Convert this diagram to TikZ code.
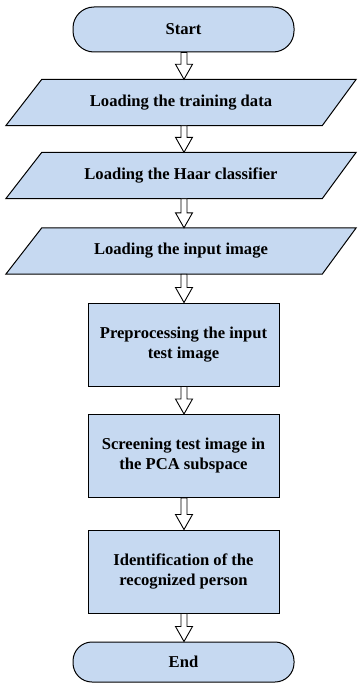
\documentclass[tikz,border=0pt]{standalone}
\usepackage{fontspec}
\setmainfont{Liberation Serif}
\usetikzlibrary{calc}
\definecolor{boxfill}{HTML}{C6D9F1}
\tikzset{
  x=1pt, y=-1pt,
  txt/.style={font=\fontsize{16.6}{20}\selectfont\bfseries, align=center, text=black},
  procbox/.style={txt, draw=black, line width=1pt, fill=boxfill, minimum width=191pt, minimum height=83pt, inner sep=0pt},
  termbox/.style={txt, draw=black, line width=1pt, fill=boxfill, rounded corners=21pt, minimum width=221pt, inner sep=0pt},
  parabox/.style={txt, minimum width=350pt, minimum height=46pt, inner sep=0pt},
  paraline/.style={draw=black, line width=1pt, fill=boxfill, line join=miter},
  arrowline/.style={draw=black, line width=0.9pt, fill=white, line join=miter},
}
\newcommand\paraShape[1]{%
  \path[paraline] (#1.south west) -- ($(#1.south east)+(-34,0)$) -- (#1.north east) -- ($(#1.north west)+(36,0)$) -- cycle;}
\newcommand\blockArrow[2]{%
  \path[arrowline] let \p1=(#1.south), \p2=(#2.north) in
    (181pt,\y1) -- (181pt,{\y2+15pt}) -- (175.5pt,{\y2+15pt}) -- (184pt,\y2)
    -- (192.5pt,{\y2+15pt}) -- (187pt,{\y2+15pt}) -- (187pt,\y1) -- cycle;}
\begin{document}
\begin{tikzpicture}
\useasboundingbox (0,0) rectangle (357,685);
% start
\node[termbox, minimum height=45pt] (start) at (183.5,29.5) {Start};
% parallelograms
\node[parabox] (p1) at (181,102.5) {};
\paraShape{p1}
\node[txt] (t1) at (p1) {Loading the training data};
\node[parabox] (p2) at (181,175.5) {};
\paraShape{p2}
\node[txt] (t2) at (p2) {Loading the Haar classifier};
\node[parabox] (p3) at (181,251) {};
\paraShape{p3}
\node[txt] (t3) at (p3) {Loading the input image};
% process boxes
\node[procbox] (r1) at (183.5,344.5) {Preprocessing the input\\test image};
\node[procbox] (r2) at (183.5,456) {Screening test image in\\the PCA subspace};
\node[procbox] (r3) at (183.5,571.5) {Identification of the\\recognized person};
% end
\node[termbox, minimum height=40pt, rounded corners=19pt] (end) at (183.5,662) {End};
% arrows
\blockArrow{start}{p1}
\blockArrow{p1}{p2}
\blockArrow{p2}{p3}
\blockArrow{p3}{r1}
\blockArrow{r1}{r2}
\blockArrow{r2}{r3}
\blockArrow{r3}{end}
\end{tikzpicture}
\end{document}
